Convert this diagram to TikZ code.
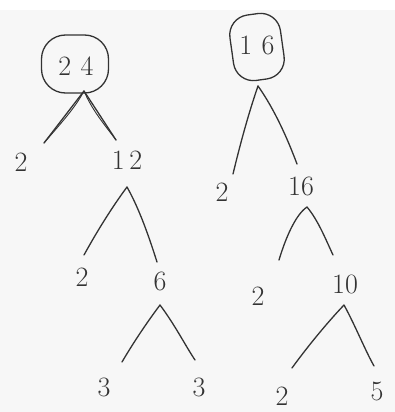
\documentclass[tikz,border=0pt]{standalone}
\begin{document}
\begin{tikzpicture}[x=1pt,y=-1pt,
  ink/.style={draw=black!80, line width=1.3pt, line cap=round},
  num/.style={text=black!80, font=\fontsize{28}{30}\selectfont, inner sep=0pt},
  blob/.style={draw=black!80, line width=1.3pt, rounded corners=21pt, inner sep=0pt}]
\useasboundingbox[fill=black!3] (0,0) rectangle (395,412);
\fill[white] (0,0) rectangle (395,10);
% left tree
\node[blob, minimum width=67pt, minimum height=58pt, rounded corners=24pt] (c24) at (75,64) {};
\node[num] (t24) at (76,66) {2\,\,4};
\node[num] (l2a) at (21,162) {2};
\node[num] (l12) at (127,160) {1\,2};
\node[num] (l2b) at (82,277) {2};
\node[num] (l6) at (160,281) {6};
\node[num] (l3a) at (104,387) {3};
\node[num] (l3b) at (199,387) {3};
\coordinate (p24) at (84,91);
\coordinate (e24a) at (44,143);
\coordinate (e24b) at (116,140);
\draw[ink] (p24) -- (e24a) (p24) -- (e24b);
\draw[ink, line width=0.9pt] (p24) .. controls (75,108) and (62,122) .. (e24a);
\draw[ink, line width=0.9pt] (p24) .. controls (92,110) and (104,124) .. (e24b);
\coordinate (p12) at (127,187);
\draw[ink] (p12) .. controls (110,210) and (95,235) .. (84,255);
\draw[ink] (p12) .. controls (140,210) and (150,240) .. (157,262);
\coordinate (p6) at (160,305);
\draw[ink] (p6) .. controls (145,325) and (132,345) .. (122,362);
\draw[ink] (p6) .. controls (175,325) and (185,345) .. (195,360);
% right tree
\node[blob, rotate=8, minimum width=51pt, minimum height=66pt, rounded corners=20pt] (c16) at (257,47) {};
\node[num] (t16) at (257,45) {1\,\,6};
\node[num] (r2a) at (222,192) {2};
\node[num] (r16) at (301,186) {16};
\node[num] (r2b) at (258,296) {2};
\node[num] (r10) at (345,284) {10};
\node[num] (r2c) at (282,396) {2};
\node[num] (r5) at (377,391) {5};
\coordinate (p16) at (258,86);
\draw[ink] (p16) .. controls (248,115) and (240,145) .. (233,174);
\draw[ink] (p16) .. controls (275,110) and (288,140) .. (297,164);
\coordinate (q16) at (307,207);
\draw[ink] (q16) .. controls (295,215) and (285,240) .. (279,260);
\draw[ink] (q16) .. controls (318,220) and (326,240) .. (333,255);
\coordinate (p10) at (344,305);
\draw[ink] (p10) .. controls (325,325) and (305,350) .. (292,368);
\draw[ink] (p10) .. controls (355,325) and (365,350) .. (374,366);
\end{tikzpicture}
\end{document}
